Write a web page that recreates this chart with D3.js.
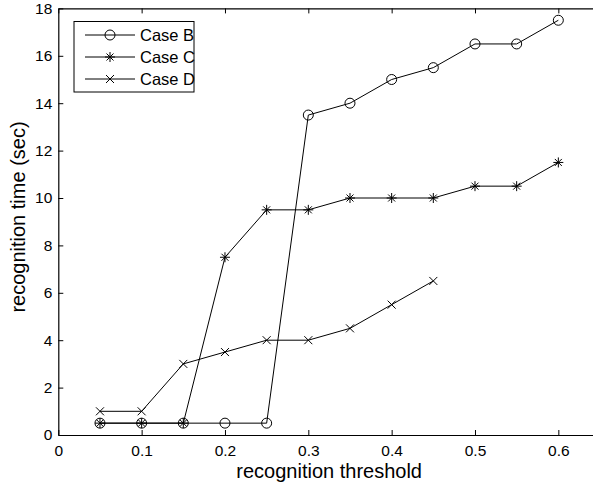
<!DOCTYPE html>
<html>
<head>
<meta charset="utf-8">
<script src="https://cdn.jsdelivr.net/npm/d3@7"></script>
<style>
  body { margin: 0; background: #fff; }
  text { font-family: "Liberation Sans", Arial, sans-serif; fill: #000; }
</style>
</head>
<body>
<div id="chart"></div>
<script>
// data
const thresholds = [0.05, 0.1, 0.15, 0.2, 0.25, 0.3, 0.35, 0.4, 0.45, 0.5, 0.55, 0.6];
const caseB = [0.5, 0.5, 0.5, 0.5, 0.5, 13.5, 14, 15, 15.5, 16.5, 16.5, 17.5];
const caseC = [0.5, 0.5, 0.5, 7.5, 9.5, 9.5, 10, 10, 10, 10.5, 10.5, 11.5];
const caseD = [1, 1, 3, 3.5, 4, 4, 4.5, 5.5, 6.5];
const xTicks = [0, 0.1, 0.2, 0.3, 0.4, 0.5, 0.6];
const yTicks = [0, 2, 4, 6, 8, 10, 12, 14, 16, 18];

const series = [
  { name: "Case B", values: caseB, marker: "circle" },
  { name: "Case C", values: caseC, marker: "star" },
  { name: "Case D", values: caseD, marker: "cross" }
];

const width = 593, height = 489;
const svg = d3.select("#chart").append("svg")
  .attr("width", width)
  .attr("height", height);

// x range runs a bit past the right edge, like the original crop
const x = d3.scaleLinear().domain([0, 0.65]).range([58.3, 600]);
const y = d3.scaleLinear().domain([0, 18]).range([435, 8.4]);

// marker drawing
function drawMarker(g, type) {
  if (type === "circle") {
    g.append("circle").attr("r", 5).attr("fill", "none").attr("stroke", "#000").attr("stroke-width", 1);
  } else if (type === "star") {
    const s = 5;
    g.append("path")
      .attr("d", `M${-s},0H${s}M0,${-s}V${s}M${-s*0.7},${-s*0.7}L${s*0.7},${s*0.7}M${-s*0.7},${s*0.7}L${s*0.7},${-s*0.7}`)
      .attr("stroke", "#000").attr("stroke-width", 1).attr("fill", "none");
  } else {
    const s = 4;
    g.append("path")
      .attr("d", `M${-s},${-s}L${s},${s}M${-s},${s}L${s},${-s}`)
      .attr("stroke", "#000").attr("stroke-width", 1).attr("fill", "none");
  }
}

// axes box
const xAxis = d3.axisBottom(x).tickValues(xTicks).tickSizeInner(-5).tickSizeOuter(0).tickPadding(10)
  .tickFormat(d => d === 0 ? "0" : d3.format(".1f")(d));
const yAxis = d3.axisLeft(y).tickValues(yTicks).tickSizeInner(-5).tickSizeOuter(0).tickPadding(6)
  .tickFormat(d3.format("d"));

const gx = svg.append("g").attr("transform", `translate(0,${y(0)})`).call(xAxis);
const gy = svg.append("g").attr("transform", `translate(${x(0)},0)`).call(yAxis);
const gxTop = svg.append("g").attr("transform", `translate(0,${y(18)})`)
  .call(d3.axisTop(x).tickValues(xTicks).tickSizeInner(-5).tickSizeOuter(0).tickFormat(""));

[gx, gy, gxTop].forEach(g => {
  g.selectAll("path.domain").attr("stroke", "#000").attr("stroke-width", 1.2);
  g.selectAll(".tick line").attr("stroke", "#000").attr("stroke-width", 1);
  g.selectAll(".tick text").attr("font-size", 15.5).attr("font-family", "Liberation Sans, Arial, sans-serif").attr("fill", "#000");
});

// lines + markers
const line = d3.line().x((d, i) => x(thresholds[i])).y(d => y(d));
series.forEach(s => {
  svg.append("path")
    .datum(s.values)
    .attr("d", line)
    .attr("fill", "none")
    .attr("stroke", "#000")
    .attr("stroke-width", 1);
  s.values.forEach((v, i) => {
    const g = svg.append("g").attr("transform", `translate(${x(thresholds[i])},${y(v)})`);
    drawMarker(g, s.marker);
  });
});

// legend
const legend = svg.append("g");
legend.append("rect")
  .attr("x", 74).attr("y", 21.5).attr("width", 120).attr("height", 70.5)
  .attr("fill", "#fff").attr("stroke", "#000").attr("stroke-width", 1);
series.forEach((s, i) => {
  const ly = 35 + i * 22;
  legend.append("line").attr("x1", 85).attr("x2", 135).attr("y1", ly).attr("y2", ly)
    .attr("stroke", "#000").attr("stroke-width", 1);
  drawMarker(legend.append("g").attr("transform", `translate(110,${ly})`), s.marker);
  legend.append("text").attr("x", 140).attr("y", ly).attr("dy", "0.35em")
    .attr("font-size", 16.5).text(s.name);
});

// axis labels
svg.append("text")
  .attr("x", (x(0) + x(0.65)) / 2).attr("y", 478)
  .attr("text-anchor", "middle").attr("font-size", 20)
  .text("recognition threshold");
svg.append("text")
  .attr("transform", `translate(25,217) rotate(-90)`)
  .attr("text-anchor", "middle").attr("font-size", 20)
  .text("recognition time (sec)");
</script>
</body>
</html>
